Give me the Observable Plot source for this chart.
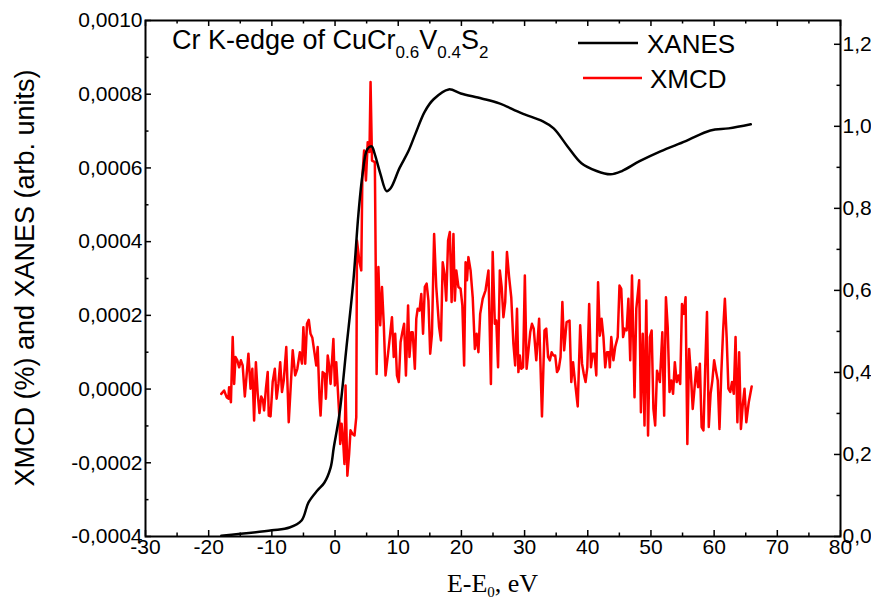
<!DOCTYPE html>
<html>
<head>
<meta charset="utf-8">
<script src="https://cdn.jsdelivr.net/npm/d3@7"></script>
<script src="https://cdn.jsdelivr.net/npm/@observablehq/plot@0.6"></script>
<style>
  html, body { margin: 0; padding: 0; background: #fff; }
  #chart svg { display: block; }
</style>
</head>
<body>
<div id="chart"></div>
<script>
// ---------- data ----------
const xTicks = [-30, -20, -10, 0, 10, 20, 30, 40, 50, 60, 70, 80];
const xMinor = [-25, -15, -5, 5, 15, 25, 35, 45, 55, 65, 75];
const yLeftTicks = [-0.0004, -0.0002, 0, 0.0002, 0.0004, 0.0006, 0.0008, 0.0010];
const yLeftMinor = [-0.0003, -0.0001, 0.0001, 0.0003, 0.0005, 0.0007, 0.0009];
const yRightTicks = [0, 0.2, 0.4, 0.6, 0.8, 1.0, 1.2];
const yRightMinor = [0.1, 0.3, 0.5, 0.7, 0.9, 1.1];

const xDomain = [-30, 80];
const yLeftDomain = [-0.0004, 0.0010];
const yRightDomain = [0, 1.258];

// XANES (right axis, arb. units)
const xanesE = [-18.0, -10.0, -7.2, -5.3, -4.2, -2.8, -1.7, -0.7, -0.2, 0.7, 1.8, 2.9, 3.7, 4.35, 5.1, 5.8, 6.25, 7.2, 8.15, 8.8, 10.2, 11.6, 12.7, 14.2, 15.6, 18.0, 19.9, 23.2, 26.0, 29.5, 32.9, 34.6, 36.8, 39.0, 41.4, 43.6, 45.4, 48.2, 51.5, 55.5, 59.4, 62.3, 65.8];
const xanesI = [0.002, 0.015, 0.022, 0.039, 0.083, 0.112, 0.131, 0.168, 0.217, 0.299, 0.460, 0.623, 0.786, 0.883, 0.944, 0.951, 0.934, 0.883, 0.842, 0.849, 0.898, 0.939, 0.981, 1.036, 1.066, 1.090, 1.080, 1.068, 1.056, 1.032, 1.012, 0.995, 0.951, 0.910, 0.891, 0.883, 0.891, 0.915, 0.939, 0.964, 0.990, 0.995, 1.005];

// XMCD (left axis), values in units of 1e-4
const xmcdE = [-18.01,-17.56,-17.16,-16.88,-16.77,-16.48,-16.20,-15.97,-15.75,-15.47,-15.18,-14.90,-14.62,-14.28,-13.71,-13.37,-13.09,-12.81,-12.53,-12.24,-11.96,-11.68,-11.40,-11.23,-10.94,-10.66,-10.49,-10.21,-9.87,-9.53,-9.25,-8.96,-8.68,-8.40,-8.12,-7.72,-7.33,-6.70,-6.31,-5.97,-5.57,-5.23,-5.01,-4.72,-4.44,-4.16,-3.88,-3.59,-3.31,-2.97,-2.75,-2.46,-2.29,-1.96,-1.62,-1.45,-1.16,-0.94,-0.71,-0.49,-0.26,-0.03,0.19,0.42,0.65,0.82,1.04,1.32,1.49,1.66,1.95,2.23,2.45,2.79,3.08,3.36,3.47,3.87,4.15,4.32,4.60,4.89,5.17,5.45,5.62,5.85,6.30,6.58,6.86,7.15,7.43,7.71,7.99,8.39,8.73,9.01,9.29,9.52,9.80,10.09,10.37,10.65,10.93,11.22,11.56,11.78,12.06,12.29,12.63,12.86,13.08,13.37,13.65,13.93,14.21,14.50,14.78,15.06,15.34,15.68,16.02,16.47,16.76,17.04,17.32,17.60,17.89,18.17,18.45,18.74,18.96,19.19,19.53,19.87,20.15,20.43,20.66,20.88,21.11,21.45,21.79,22.13,22.41,22.69,22.97,23.37,23.82,24.28,24.67,24.95,25.29,25.52,25.80,26.08,26.37,26.65,26.93,27.21,27.55,27.89,28.23,28.51,28.80,29.02,29.25,29.48,29.76,30.04,30.32,30.61,30.89,31.17,31.45,31.85,32.30,32.75,33.15,33.43,33.72,34.00,34.28,34.56,34.85,35.13,35.41,35.69,35.98,36.26,36.65,37.11,37.39,37.67,37.96,38.41,38.80,39.09,39.37,39.65,39.93,40.22,40.50,40.78,41.06,41.35,41.63,41.91,42.19,42.48,42.76,43.04,43.33,43.49,43.72,44.06,44.34,44.74,45.02,45.30,45.59,45.87,46.15,46.43,46.72,47.00,47.40,47.68,48.13,48.41,48.70,48.98,49.26,49.54,49.83,50.11,50.39,50.67,50.96,51.41,51.80,52.09,52.37,52.65,52.94,53.22,53.50,53.78,54.07,54.35,54.63,54.91,55.20,55.48,55.76,56.04,56.33,56.61,56.89,57.18,57.46,57.74,58.02,58.31,58.59,58.87,59.15,59.44,59.72,60.00,60.28,60.57,60.85,61.13,61.41,61.70,61.98,62.26,62.55,62.83,63.11,63.39,63.68,63.96,64.24,64.52,64.81,65.09,65.48,65.94];
const xmcdE4 = [-0.13,-0.04,-0.22,-0.26,0.05,-0.36,1.41,0.14,0.87,0.78,0.59,0.78,0.64,-0.20,0.96,0.01,0.55,-0.85,0.73,-0.13,-0.65,-0.20,-0.31,-0.58,0.01,0.46,-0.72,-0.74,0.19,0.55,-0.26,0.14,0.73,-0.08,0.23,1.14,-0.90,1.05,0.37,0.55,1.00,0.69,1.68,0.69,1.77,1.88,1.50,1.39,1.05,0.64,1.14,-0.26,-0.72,0.46,0.41,-0.26,0.91,0.64,0.14,0.73,1.36,0.10,0.73,0.05,-0.67,-1.49,-0.94,-1.53,-2.03,0.10,-2.35,-1.76,-1.12,-1.22,-1.26,-0.76,4.03,3.44,3.22,5.75,6.47,5.66,6.70,6.43,8.33,6.20,6.16,0.41,3.31,1.73,2.77,1.77,0.37,0.96,1.50,1.95,0.87,1.50,0.37,0.19,1.27,1.54,1.77,0.37,2.27,0.87,1.54,1.54,0.55,1.91,2.18,2.13,2.58,1.50,2.77,2.86,2.40,0.96,1.50,4.21,2.77,1.68,1.32,3.44,3.13,2.40,4.03,4.26,2.36,4.21,2.40,3.22,2.77,2.72,2.27,0.64,3.44,2.95,3.58,3.22,2.49,1.09,1.50,1.00,2.04,2.45,2.68,3.22,0.14,3.72,1.77,1.86,0.59,3.22,2.77,1.95,2.36,3.72,3.04,2.49,1.23,0.64,2.18,0.46,0.91,0.55,0.59,3.08,0.55,1.05,1.54,1.77,1.64,0.78,1.91,-0.74,1.59,1.64,0.87,0.78,1.00,0.91,0.91,0.46,0.55,0.87,2.36,1.05,1.82,1.86,0.19,0.73,0.23,-0.47,1.73,0.69,0.41,0.19,0.59,2.31,0.59,0.96,0.96,0.37,2.90,1.45,1.91,1.41,0.59,1.00,1.00,0.59,1.41,0.78,1.14,1.41,2.81,2.72,1.41,1.64,1.59,2.45,0.78,3.08,-0.22,2.18,2.95,-0.63,1.50,-0.99,2.40,-1.26,1.41,1.59,-0.54,-0.99,0.50,0.19,1.54,-0.72,2.49,1.68,-0.08,0.23,-0.13,0.73,0.19,0.37,0.14,2.31,2.04,2.49,-1.49,1.09,0.37,-0.54,0.01,0.59,0.05,0.69,-1.03,-1.12,0.59,2.09,-1.03,-0.13,0.23,0.78,0.50,0.23,-1.08,0.41,1.54,2.45,1.41,0.01,-0.08,0.19,-0.13,1.41,-0.90,1.00,-1.08,-0.45,0.01,-0.90,-0.36,0.07];

// ---------- layout ----------
const W = 871, H = 601;
const M = {left: 145, right: 31, top: 20, bottom: 65};
const plotW = W - M.left - M.right;
const plotH = H - M.top - M.bottom;
const majorLen = 6, minorLen = 3.5;
const sans = "'Liberation Sans', Arial, Helvetica, sans-serif";
const serif = "'Liberation Serif', 'Times New Roman', Times, serif";

// map right-axis values onto the left (shared) y scale
const toLeft = r => yLeftDomain[0] + (r - yRightDomain[0]) / (yRightDomain[1] - yRightDomain[0]) * (yLeftDomain[1] - yLeftDomain[0]);
const toRight = v => yRightDomain[0] + (v - yLeftDomain[0]) / (yLeftDomain[1] - yLeftDomain[0]) * (yRightDomain[1] - yRightDomain[0]);

const xanes = xanesE.map((e, i) => ({e, y: toLeft(xanesI[i])}));
const xmcd = xmcdE.map((e, i) => ({e, y: xmcdE4[i] * 1e-4}));

const fmtLeft = d => d3.format(".4f")(d).replace("\u2212", "-").replace(".", ",");
const fmtRight = d => d3.format(".1f")(Math.round(toRight(d) * 10) / 10).replace(".", ",");

const tickStyle = {stroke: "black", strokeWidth: 1.5};

const svg = Plot.plot({
  width: W, height: H,
  marginLeft: M.left, marginRight: M.right, marginTop: M.top, marginBottom: M.bottom,
  style: {background: "white", color: "black", fontFamily: sans, fontSize: "21px", overflow: "visible"},
  x: {domain: xDomain, label: null},
  y: {domain: yLeftDomain, label: null},
  marks: [
    // tick marks (inward)
    Plot.tickX(xTicks, {x: d => d, insetTop: plotH - majorLen, ...tickStyle}),
    Plot.tickX(xTicks, {x: d => d, insetBottom: plotH - majorLen, ...tickStyle}),
    Plot.tickX(xMinor, {x: d => d, insetTop: plotH - minorLen, ...tickStyle}),
    Plot.tickX(xMinor, {x: d => d, insetBottom: plotH - minorLen, ...tickStyle}),
    Plot.tickY(yLeftTicks, {y: d => d, insetRight: plotW - majorLen, ...tickStyle}),
    Plot.tickY(yLeftMinor, {y: d => d, insetRight: plotW - minorLen, ...tickStyle}),
    Plot.tickY(yRightTicks, {y: d => toLeft(d), insetLeft: plotW - majorLen, ...tickStyle}),
    Plot.tickY(yRightMinor, {y: d => toLeft(d), insetLeft: plotW - minorLen, ...tickStyle}),
    // axes labels
    Plot.axisX(xTicks, {tickSize: 0, tickPadding: 3, tickFormat: d => String(d), label: null}),
    Plot.axisY(yLeftTicks, {anchor: "left", tickSize: 0, tickPadding: 3, tickFormat: fmtLeft, label: null}),
    Plot.axisY(yRightTicks.map(toLeft), {anchor: "right", tickSize: 0, tickPadding: 2, tickFormat: fmtRight, label: null}),
    // data
    Plot.line(xmcd, {x: "e", y: "y", stroke: "#ff0000", strokeWidth: 2.5, strokeLinejoin: "round"}),
    Plot.line(xanes, {x: "e", y: "y", stroke: "black", strokeWidth: 2.5, curve: "catmull-rom"}),
    Plot.frame({stroke: "black", strokeWidth: 2})
  ]
});

const root = d3.select(svg);

// y-axis title
root.append("text")
  .attr("transform", `translate(34, ${M.top + plotH / 2}) rotate(-90)`)
  .attr("text-anchor", "middle")
  .attr("font-family", sans)
  .attr("font-size", 27)
  .attr("fill", "black")
  .text("XMCD (%) and XANES (arb. units)");

// x-axis title with subscript
const xl = root.append("text")
  .attr("x", M.left + plotW / 2)
  .attr("y", 592)
  .attr("text-anchor", "middle")
  .attr("font-family", serif)
  .attr("font-size", 26)
  .attr("fill", "black");
xl.append("tspan").text("E-E");
xl.append("tspan").attr("font-size", 15).attr("dy", 5).text("0");
xl.append("tspan").attr("dy", -5).text(", eV");

// in-plot title with subscripts
const tt = root.append("text")
  .attr("x", 172)
  .attr("y", 49)
  .attr("text-anchor", "start")
  .attr("font-family", sans)
  .attr("font-size", 27)
  .attr("fill", "black");
tt.append("tspan").text("Cr K-edge of CuCr");
tt.append("tspan").attr("font-size", 17).attr("dy", 9).text("0.6");
tt.append("tspan").attr("dy", -9).text("V");
tt.append("tspan").attr("font-size", 17).attr("dy", 9).text("0.4");
tt.append("tspan").attr("dy", -9).text("S");
tt.append("tspan").attr("font-size", 17).attr("dy", 9).text("2");

// legend
const legend = [
  {label: "XANES", color: "black", x1: 578, x2: 638, y: 43, tx: 647, ty: 53},
  {label: "XMCD", color: "#ff0000", x1: 583, x2: 642, y: 78, tx: 650, ty: 88}
];
const lg = root.append("g");
lg.selectAll("line").data(legend).join("line")
  .attr("x1", d => d.x1).attr("x2", d => d.x2)
  .attr("y1", d => d.y).attr("y2", d => d.y)
  .attr("stroke", d => d.color).attr("stroke-width", 2.5);
lg.selectAll("text").data(legend).join("text")
  .attr("x", d => d.tx).attr("y", d => d.ty)
  .attr("text-anchor", "start")
  .attr("font-family", sans).attr("font-size", 26).attr("fill", "black")
  .text(d => d.label);

document.getElementById("chart").appendChild(svg);
</script>
</body>
</html>
